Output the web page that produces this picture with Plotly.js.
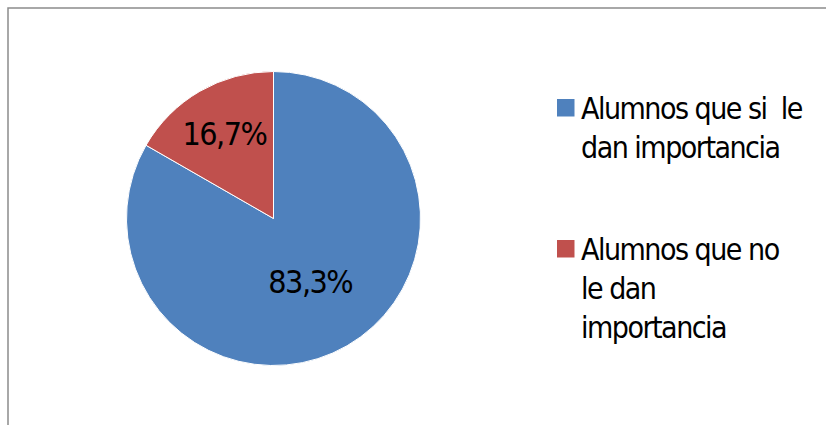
<!DOCTYPE html>
<html>
<head>
<meta charset="utf-8">
<script src="https://cdn.plot.ly/plotly-3.0.1.min.js"></script>
<style>
  html, body { margin: 0; padding: 0; background: #fff; }
  #chart { width: 826px; height: 425px; }
  .annotation-text, .slicetext { letter-spacing: -1.5px; }
</style>
</head>
<body>
<div id="chart"></div>
<script>
const labels = ["Alumnos que si\u00a0 le<br>dan importancia", "Alumnos que no<br>le dan<br>importancia"];
const values = [83.3, 16.7];
const colors = ["#4F81BD", "#C0504D"];

const W = 826, H = 425;
const cx = 273.5, cy = 218.5, r = 147;
const FONT = "DejaVu Sans Condensed, DejaVu Sans";

// legend layout (pixel positions of entries, top of each entry's square)
const legendX = 557, legendSq = 17.5, legendTextX = 579;
const legendTops = [99, 240];

const data = [{
  type: "pie",
  labels: labels,
  values: values,
  sort: false,
  direction: "clockwise",
  rotation: 0,
  marker: { colors: colors, line: { color: "#ffffff", width: 1 } },
  texttemplate: "%{percent:.1%}",
  textposition: "inside",
  insidetextorientation: "horizontal",
  textfont: { family: FONT, size: 32, color: "#000000" },
  hoverinfo: "none",
  showlegend: false,
  domain: { x: [(cx - r) / W, (cx + r) / W], y: [(H - cy - r) / H, (H - cy + r) / H] }
}];

const shapes = [{
  type: "rect", xref: "paper", yref: "paper",
  x0: 8 / W, x1: 1.02, y0: -0.02, y1: 1 - 8 / H,
  line: { color: "#8c8c8c", width: 1.5 }, fillcolor: "rgba(0,0,0,0)", layer: "below"
}];
const annotations = [];
labels.forEach((lab, i) => {
  const top = legendTops[i];
  shapes.push({
    type: "rect", xref: "paper", yref: "paper",
    x0: legendX / W, x1: (legendX + legendSq) / W,
    y0: 1 - (top + legendSq) / H, y1: 1 - top / H,
    line: { width: 0 }, fillcolor: colors[i]
  });
  annotations.push({
    xref: "paper", yref: "paper",
    x: legendTextX / W, xanchor: "left",
    y: 1 - (top - 10) / H, yanchor: "top",
    text: lab, showarrow: false, align: "left",
    font: { family: FONT, size: 30, color: "#000000" }
  });
});

const layout = {
  width: W, height: H,
  margin: { l: 0, r: 0, t: 0, b: 0 },
  paper_bgcolor: "#ffffff",
  separators: ",.",
  showlegend: false,
  shapes: shapes,
  annotations: annotations
};

Plotly.newPlot("chart", data, layout, { staticPlot: true, displayModeBar: false });
</script>
</body>
</html>
